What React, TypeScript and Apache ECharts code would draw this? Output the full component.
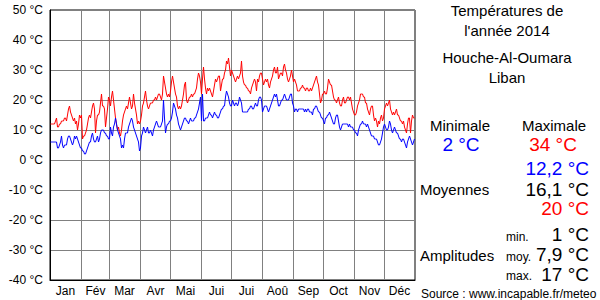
import React, { useEffect, useRef } from "react";
import * as echarts from "echarts";

const monthNames = ["Jan", "Fév", "Mar", "Avr", "Mai", "Jui", "Jui", "Aoû", "Sep", "Oct", "Nov", "Déc"];
const monthLengths = [31, 28, 31, 30, 31, 30, 31, 31, 30, 31, 30, 31];
const yTicks = [-40, -30, -20, -10, 0, 10, 20, 30, 40, 50];

const maxJan = [12,12,12,12,12,13,14,11,11,12,12,13,13,13,14,14,13,15,17,18,16,15,14,13,14,12,13,10,12,15,14];
const maxFeb = [15,7,8,8,9,10,12,14,15,14,16,18,19,17,9,13,15,15,16,19,22,18,18,17,11,14,17,21];
const maxMar = [20,18,21,23,20,17,14,12,10,11,9,8,10,13,15,16,17,18,17,19,21,19,17,18,22,19,17,15,12,13,12];
const maxApr = [13,15,18,19,21,23,20,18,17,18,19,19,19,20,20,21,20,21,22,22,21,20,22,28,26,24,22,21,22,21];
const maxMay = [23,26,28,26,24,22,21,18,17,18,17,18,20,22,25,26,20,19,20,21,21,22,21,22,22,23,24,27,29,28,26];
const maxJun = [22,27,31,27,24,22,24,23,24,23,22,21,23,25,27,26,27,28,28,23,25,27,27,29,30,33,32,34,31,28];
const maxJul = [30,29,28,27,26,27,28,27,28,29,33,28,26,25,25,24,24,23,23,22,24,25,26,27,26,23,27,26,28,29,29];
const maxAug = [27,25,26,27,26,27,25,24,26,27,28,30,31,29,29,31,27,28,29,29,28,31,32,30,29,27,26,27,28,30,28];
const maxSep = [26,27,26,25,23,23,23,24,24,25,24,24,23,24,24,23,23,24,23,24,25,26,27,28,26,25,22,19,20,22];
const maxOct = [22,23,22,22,24,27,26,25,25,23,21,20,20,19,20,21,19,18,18,20,21,19,19,20,21,21,20,21,19,17,16];
const maxNov = [15,15,16,18,19,20,22,22,22,21,21,19,19,17,16,15,17,18,18,15,13,14,13,11,13,12,14,15,13,14];
const maxDec = [17,18,19,18,19,20,17,16,15,16,15,16,17,15,15,14,13,13,12,13,11,10,9,12,14,14,9,13,15,14,14];

const minJan = [6,6,6,6,6,6,6,4,4,5,6,8,5,4,5,5,5,7,8,8,7,6,5,6,8,7,8,7,6,5,4];
const minFeb = [4,3,3,2,2,3,4,5,6,6,8,9,7,6,6,7,8,6,7,9,10,10,10,9,9,8,8,7];
const minMar = [7,11,9,8,11,12,14,12,10,9,8,7,4,5,4,7,9,9,9,11,12,13,14,13,11,10,9,8,7,6,3];
const minApr = [4,8,9,11,10,9,10,11,9,9,10,9,8,10,11,12,13,12,11,11,11,12,13,20,14,9,11,12,12,13];
const minMay = [13,14,16,19,18,17,15,14,12,11,10,11,12,13,14,14,13,13,12,13,14,13,13,13,14,14,15,16,17,19,21];
const minJun = [13,22,13,13,14,14,14,15,16,15,15,14,15,16,15,15,14,14,15,16,17,17,18,18,21,23,22,21,19,18];
const minJul = [18,20,19,18,19,19,18,19,21,20,19,16,16,16,16,16,16,17,17,18,18,17,17,18,19,18,18,20,21,21,20];
const minAug = [16,17,18,18,18,17,16,17,18,19,20,21,22,21,22,20,18,18,19,20,20,21,22,21,20,20,20,21,22,22,19];
const minSep = [18,16,17,17,16,17,17,17,17,17,17,16,17,16,17,17,16,16,16,15,17,17,18,18,17,16,16,15,14,14];
const minOct = [13,12,14,14,15,15,16,15,14,13,12,12,14,15,15,13,11,10,11,12,12,12,12,12,12,11,12,11,11,11,10];
const minNov = [10,9,9,8,10,11,12,12,13,12,12,12,11,12,11,10,9,8,8,8,7,7,7,6,5,5,6,7,9,11];
const minDec = [12,11,10,10,11,13,12,10,9,10,11,10,9,9,8,7,7,6,7,7,6,5,4,6,7,8,7,6,5,6,7];

const maxSeries = [maxJan, maxFeb, maxMar, maxApr, maxMay, maxJun, maxJul, maxAug, maxSep, maxOct, maxNov, maxDec].flat();
const minSeries = [minJan, minFeb, minMar, minApr, minMay, minJun, minJul, minAug, minSep, minOct, minNov, minDec].flat();

const days = maxSeries.map((_, i) => String(i + 1));
const monthStarts: number[] = [];
const monthMids: number[] = [];
{
  let s = 0;
  for (const len of monthLengths) {
    monthStarts.push(s);
    monthMids.push(s + Math.floor(len / 2));
    s += len;
  }
}

const FONT = "Liberation Sans, Arial, sans-serif";

export default function App() {
  const ref = useRef<HTMLDivElement>(null);
  useEffect(() => {
    if (!ref.current) return;
    const chart = echarts.init(ref.current, null, { renderer: "svg" });
    const txt = (text: string, x: number, y: number, size: number, color: string, align: string = "center") => ({
      type: "text",
      x,
      y,
      style: { text, fill: color, font: `${size}px ${FONT}`, textAlign: align, textVerticalAlign: "middle" },
    });
    chart.setOption({
      animation: false,
      backgroundColor: "#fff",
      grid: { left: 50, right: 185, top: 10, bottom: 20, show: true, borderColor: "#000", borderWidth: 1 },
      xAxis: {
        type: "category",
        data: days,
        boundaryGap: true,
        axisLine: { onZero: false, lineStyle: { color: "#000", width: 1 } },
        axisTick: { show: false },
        axisLabel: {
          interval: (i: number) => monthMids.includes(i),
          formatter: (_v: string, i: number) => {
            const k = monthMids.indexOf(i);
            return k >= 0 ? monthNames[k] : "";
          },
          color: "#000",
          fontFamily: FONT,
          fontSize: 12,
          margin: 5,
        },
        splitLine: {
          show: true,
          interval: (i: number) => i > 0 && monthStarts.includes(i),
          lineStyle: { color: "#808080", width: 1 },
        },
      },
      yAxis: {
        type: "value",
        min: yTicks[0],
        max: yTicks[yTicks.length - 1],
        interval: 10,
        axisLine: { show: true, lineStyle: { color: "#000", width: 1 } },
        axisTick: { show: false },
        axisLabel: { formatter: (v: number) => `${v} °C`, color: "#000", fontFamily: FONT, fontSize: 12, margin: 7 },
        splitLine: { show: true, lineStyle: { color: "#808080", width: 1 } },
      },
      series: [
        { type: "line", data: maxSeries, showSymbol: false, lineStyle: { color: "#ff0000", width: 1 }, itemStyle: { color: "#ff0000" } },
        { type: "line", data: minSeries, showSymbol: false, lineStyle: { color: "#0000ff", width: 1 }, itemStyle: { color: "#0000ff" } },
      ],
      graphic: [
        txt("Températures de", 507, 10, 15, "#000"),
        txt("l'année 2014", 507, 30, 15, "#000"),
        txt("Houche-Al-Oumara", 507, 57, 15, "#000"),
        txt("Liban", 507, 77, 15, "#000"),
        txt("Minimale", 460, 125, 15, "#000"),
        txt("Maximale", 554, 125, 15, "#000"),
        txt("2 °C", 461, 144, 19, "#0000ff"),
        txt("34 °C", 553, 144, 19, "#ff0000"),
        txt("12,2 °C", 589, 168, 19, "#0000ff", "right"),
        txt("Moyennes", 420, 189, 15, "#000", "left"),
        txt("16,1 °C", 589, 189, 19, "#000", "right"),
        txt("20 °C", 589, 208, 19, "#ff0000", "right"),
        txt("min.", 506, 237, 12, "#000", "left"),
        txt("1 °C", 589, 234, 19, "#000", "right"),
        txt("Amplitudes", 420, 255, 15, "#000", "left"),
        txt("moy.", 506, 257, 12, "#000", "left"),
        txt("7,9 °C", 589, 254, 19, "#000", "right"),
        txt("max.", 506, 276, 12, "#000", "left"),
        txt("17 °C", 589, 274, 19, "#000", "right"),
        txt("Source : www.incapable.fr/meteo", 421, 294, 12, "#000", "left"),
      ],
    });
    return () => chart.dispose();
  }, []);
  return <div ref={ref} style={{ width: 600, height: 300, position: "absolute", left: 0, top: 0 }} />;
}
